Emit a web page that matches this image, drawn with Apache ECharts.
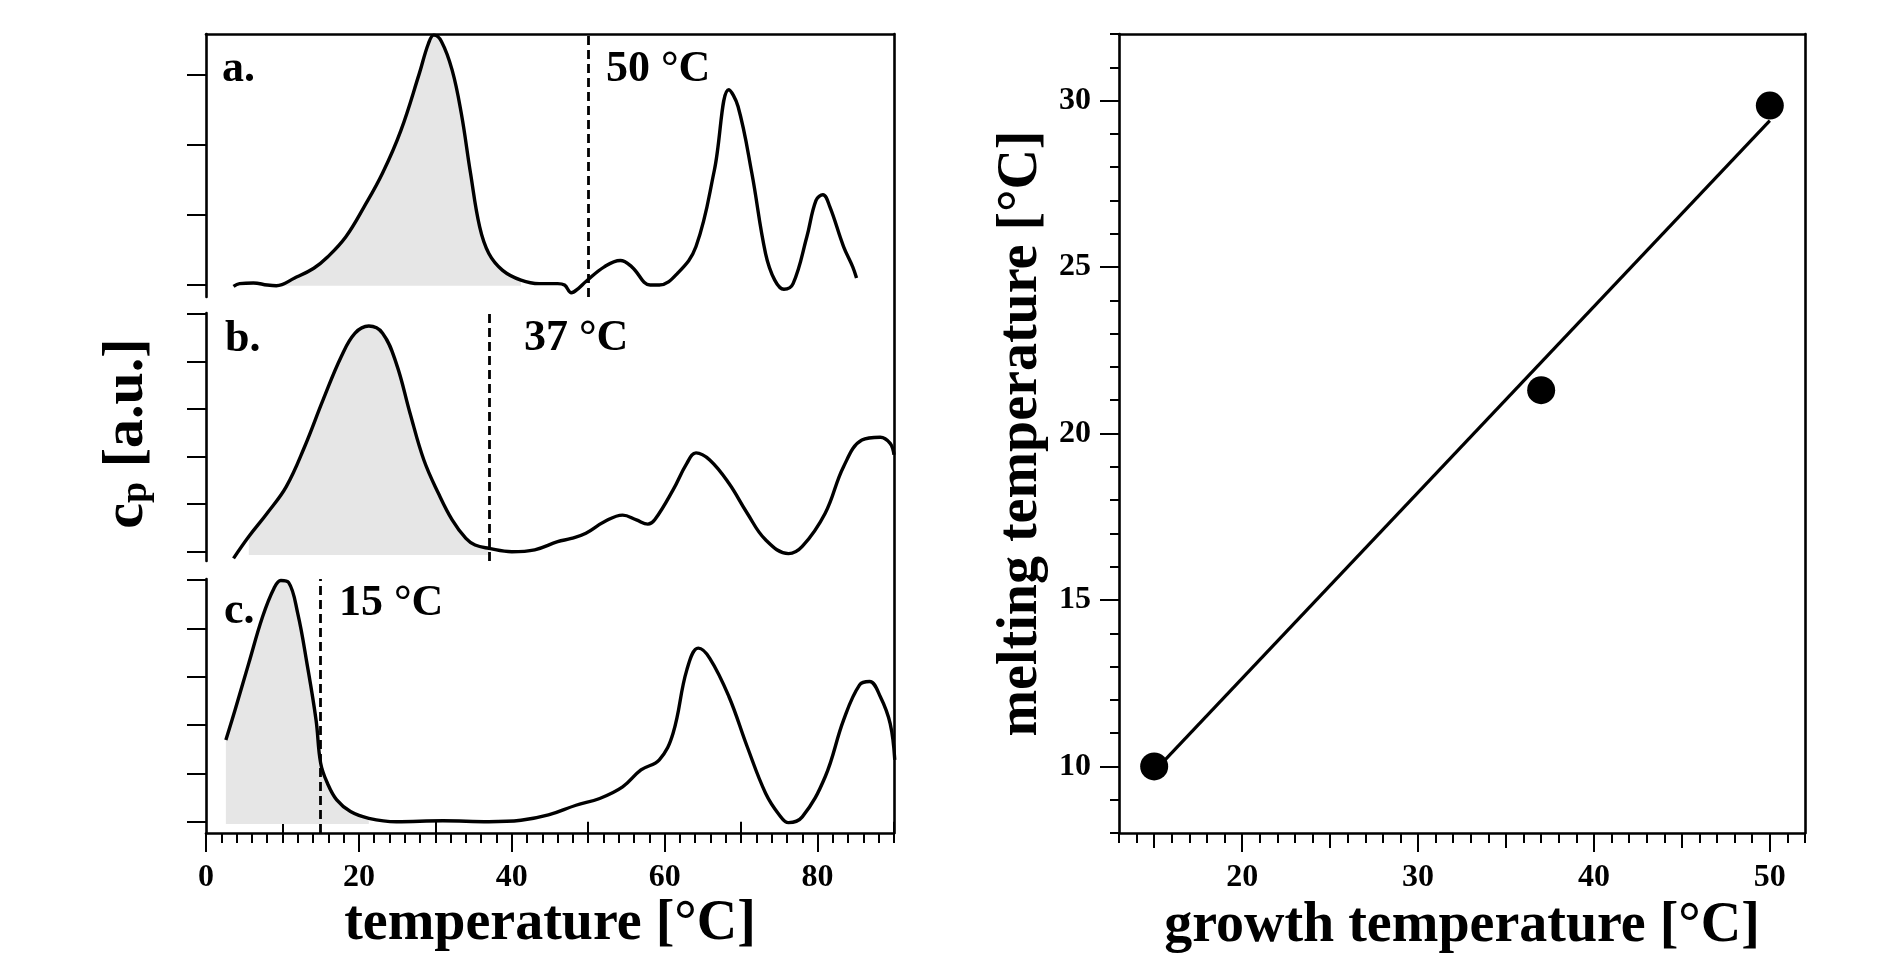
<!DOCTYPE html>
<html><head><meta charset="utf-8">
<script src="https://cdn.jsdelivr.net/npm/echarts@6/dist/echarts.min.js"></script>
<style>html,body{margin:0;padding:0;background:#fff}#c{width:1890px;height:978px}</style>
</head><body><div id="c"></div>
<script>
// ---------- data (temperature [°C], cp in tick units) ----------
const curveA = [[3.6,-0.02],[4.4,0.02],[6.2,0.03],[8,0.0],[9.2,-0.01],[11.6,0.10],[14.1,0.24],[15.9,0.40],[18.3,0.69],[20.7,1.12],[23.1,1.60],[25.5,2.21],[27.9,3.02],[29.1,3.45],[29.8,3.57],[30.8,3.48],[32.2,3.07],[33.4,2.45],[34.6,1.60],[35.8,0.83],[37.0,0.45],[38.8,0.21],[41.2,0.07],[43.6,0.02],[46.0,0.02],[46.9,0.0],[47.8,-0.11],[48.7,-0.05],[49.7,0.05],[52.1,0.26],[54.2,0.35],[55.7,0.26],[58.1,0.0],[59.3,0.0],[61.7,0.17],[64.1,0.55],[66.5,1.64],[68.4,2.79],[69.6,2.55],[71.4,1.60],[73.2,0.45],[74.4,0.07],[75.6,-0.06],[76.8,0.02],[78.6,0.69],[79.8,1.21],[80.7,1.29],[81.6,1.12],[83.4,0.55],[84.6,0.26],[85.1,0.10]];
const curveB = [[3.6,-0.14],[5.6,0.32],[8.0,0.81],[10.5,1.37],[12.9,2.21],[15.3,3.19],[17.7,4.11],[19.5,4.6],[21.3,4.75],[23.1,4.6],[24.9,3.96],[26.7,2.91],[28.5,1.93],[30.4,1.23],[32.2,0.67],[34.0,0.28],[35.2,0.14],[37.0,0.07],[40.0,0.0],[43.0,0.04],[46.0,0.21],[47.8,0.28],[49.7,0.39],[52.1,0.63],[54.5,0.77],[56.3,0.67],[57.8,0.58],[58.7,0.67],[61.1,1.30],[62.9,1.86],[64.1,2.08],[65.9,1.93],[68.4,1.44],[70.8,0.81],[73.2,0.25],[76.2,-0.04],[78.0,0.11],[81.0,0.81],[83.4,1.79],[85.8,2.35],[88.2,2.41],[89.5,2.28],[90.0,2.04]];
const curveC = [[2.6,1.69],[3.8,2.31],[5.6,3.28],[7.4,4.24],[8.9,4.83],[9.8,4.99],[10.8,4.95],[12.0,4.31],[13.2,3.28],[14.4,2.10],[15.0,1.21],[15.9,0.79],[17.1,0.45],[18.9,0.21],[21.3,0.07],[24.9,0.0],[31.0,0.02],[37.0,0.0],[41.2,0.03],[44.8,0.14],[48.4,0.34],[51.5,0.48],[54.5,0.72],[56.9,1.07],[59.3,1.28],[61.1,1.83],[62.9,3.14],[64.4,3.59],[65.9,3.38],[68.4,2.59],[70.8,1.55],[73.2,0.59],[75.0,0.14],[76.2,-0.02],[78.0,0.10],[81.0,0.93],[83.4,2.10],[85.5,2.83],[86.8,2.90],[88.2,2.59],[89.5,2.03],[90.1,1.28]];
// shaded (melting) range of each curve and its base level
const shadeA = [9, 42], shadeBaseA = -0.01;
const shadeB = [4.3, 37], shadeBaseB = -0.07;
const shadeC = [2.6, 21.5], shadeBaseC = -0.05;
const growthTemps = [50, 37, 15];          // dashed lines in panels a, b, c
const growthLabels = ['50 °C', '37 °C', '15 °C'];
const panelLetters = ['a.', 'b.', 'c.'];
// right panel
const growthT = [15, 37, 50];
const meltingT = [10.0, 21.3, 29.85];
const fitLine = [[15, 9.85], [50, 29.4]];
// tick values
const tempMajor = [0, 20, 40, 60, 80];
const tempMid = [10, 30, 50, 70, 90];
const tempMinor = []; for (let v = 0; v <= 90; v += 2) tempMinor.push(v);
const cpTicksA = [0, 1, 2, 3];
const cpTicksBC = [0, 1, 2, 3, 4, 5];
const growthMajor = [20, 30, 40, 50];
const growthMid = [15, 25, 35, 45];
const growthMinor = []; for (let v = 13; v <= 52; v++) growthMinor.push(v);
const meltMajor = [10, 15, 20, 25, 30];
const meltMinor = []; for (let v = 8; v <= 32; v++) meltMinor.push(v);

// ---------- chart ----------
const FONT = 'Liberation Serif';
const BLACK = '#000';
const chart = echarts.init(document.getElementById('c'));
const lineW = 2.6;

function tickAxis(extra) {
  return Object.assign({
    type: 'value', splitLine: {show: false},
    axisLine: {show: false}, axisLabel: {show: false},
    axisTick: {show: false}
  }, extra);
}
const tickStyle = {color: BLACK, width: 2};
const labelStyle = {color: BLACK, fontFamily: FONT, fontWeight: 'bold', fontSize: 32};
const nameStyle = {color: BLACK, fontFamily: FONT, fontWeight: 'bold', fontSize: 56};

const xAxes = [
  tickAxis({gridIndex: 0, min: 0, max: 90, show: false}),
  tickAxis({gridIndex: 1, min: 0, max: 90, show: false}),
  tickAxis({gridIndex: 2, min: 0, max: 90, position: 'bottom',
    axisLine: {show: true, onZero: false, lineStyle: {color: BLACK, width: lineW}},
    axisTick: {show: true, customValues: tempMajor, length: 19, lineStyle: tickStyle},
    axisLabel: {show: true, customValues: tempMajor, margin: 29, ...labelStyle},
    name: 'temperature [°C]', nameLocation: 'middle', nameGap: 64, nameTextStyle: nameStyle}),
  tickAxis({gridIndex: 2, min: 0, max: 90, position: 'bottom',
    axisTick: {show: true, customValues: tempMid, length: 15, lineStyle: tickStyle}}),
  tickAxis({gridIndex: 2, min: 0, max: 90, position: 'bottom',
    axisTick: {show: true, customValues: tempMinor, length: 10, lineStyle: tickStyle}}),
  tickAxis({gridIndex: 3, min: 0, max: 90, position: 'top',
    axisLine: {show: true, onZero: false, lineStyle: {color: BLACK, width: lineW}}}),
  tickAxis({gridIndex: 4, min: 13, max: 52, position: 'bottom',
    axisLine: {show: true, onZero: false, lineStyle: {color: BLACK, width: lineW}},
    axisTick: {show: true, customValues: growthMajor, length: 19, lineStyle: tickStyle},
    axisLabel: {show: true, customValues: growthMajor, margin: 29, ...labelStyle},
    name: 'growth temperature [°C]', nameLocation: 'middle', nameGap: 64, nameTextStyle: nameStyle}),
  tickAxis({gridIndex: 4, min: 13, max: 52, position: 'bottom',
    axisTick: {show: true, customValues: growthMid, length: 15, lineStyle: tickStyle}}),
  tickAxis({gridIndex: 4, min: 13, max: 52, position: 'bottom',
    axisTick: {show: true, customValues: growthMinor, length: 10, lineStyle: tickStyle}}),
  tickAxis({gridIndex: 4, min: 13, max: 52, position: 'top',
    axisLine: {show: true, onZero: false, lineStyle: {color: BLACK, width: lineW}}})
];
function panelY(grid, min, max, ticks) {
  return tickAxis({gridIndex: grid, min: min, max: max, position: 'left',
    axisLine: {show: true, onZero: false, lineStyle: {color: BLACK, width: lineW}},
    axisTick: {show: true, customValues: ticks, length: 19, lineStyle: tickStyle}});
}
const yAxes = [
  panelY(0, -0.171, 3.586, cpTicksA),
  panelY(1, -0.196, 5.025, cpTicksBC),
  panelY(2, -0.234, 5.02, cpTicksBC),
  tickAxis({gridIndex: 3, min: 0, max: 1, position: 'left',
    name: '{c|c}{p|p}{n| [a.u.]}', nameLocation: 'middle', nameGap: 50,
    nameTextStyle: Object.assign({}, nameStyle, {rich: {
      c: {fontFamily: FONT, fontWeight: 'bold', fontSize: 58, color: BLACK},
      p: {fontFamily: FONT, fontWeight: 'bold', fontSize: 38, color: BLACK, padding: [18, 0, 0, 0]},
      n: {fontFamily: FONT, fontWeight: 'bold', fontSize: 58, color: BLACK}
    }})}),
  tickAxis({gridIndex: 3, min: 0, max: 1, position: 'right',
    axisLine: {show: true, onZero: false, lineStyle: {color: BLACK, width: lineW}}}),
  tickAxis({gridIndex: 4, min: 8, max: 32, position: 'left',
    axisLine: {show: true, onZero: false, lineStyle: {color: BLACK, width: lineW}},
    axisTick: {show: true, customValues: meltMajor, length: 19, lineStyle: tickStyle},
    axisLabel: {show: true, customValues: meltMajor, margin: 28, ...labelStyle},
    name: 'melting temperature [°C]', nameLocation: 'middle', nameGap: 69, nameTextStyle: nameStyle}),
  tickAxis({gridIndex: 4, min: 8, max: 32, position: 'left',
    axisTick: {show: true, customValues: meltMinor, length: 9, lineStyle: tickStyle}}),
  tickAxis({gridIndex: 4, min: 8, max: 32, position: 'right',
    axisLine: {show: true, onZero: false, lineStyle: {color: BLACK, width: lineW}}})
];

const curves = [curveA, curveB, curveC];
const shades = [shadeA, shadeB, shadeC];
const shadeBases = [shadeBaseA, shadeBaseB, shadeBaseC];
const series = [];
curves.forEach((cv, i) => {
  series.push({
    type: 'line', xAxisIndex: i, yAxisIndex: i, z: 1,
    data: cv.filter(p => p[0] >= shades[i][0] && p[0] <= shades[i][1]),
    smooth: 0.4, showSymbol: false, silent: true,
    lineStyle: {width: 0, opacity: 0},
    areaStyle: {color: '#e6e6e6', opacity: 1, origin: shadeBases[i]}
  });
  series.push({
    type: 'line', xAxisIndex: i, yAxisIndex: i, z: 3,
    data: cv, smooth: 0.4, showSymbol: false, silent: true, clip: false,
    lineStyle: {color: BLACK, width: 3.4},
    markLine: {silent: true, symbol: 'none', label: {show: false},
      lineStyle: {color: BLACK, width: 2.8, type: [9, 5]},
      data: [{xAxis: growthTemps[i]}]}
  });
});
series.push({
  type: 'line', xAxisIndex: 6, yAxisIndex: 5, data: fitLine, showSymbol: false, silent: true,
  lineStyle: {color: BLACK, width: 3.2}
});
series.push({
  type: 'scatter', xAxisIndex: 6, yAxisIndex: 5, silent: true, z: 4,
  data: growthT.map((g, i) => [g, meltingT[i]]),
  symbol: 'circle', symbolSize: 28, itemStyle: {color: BLACK, opacity: 1}
});

const textStyle = (t) => ({text: t, fill: BLACK, font: 'bold 44px "Liberation Serif"', verticalAlign: 'middle'});
const graphic = [
  {type: 'text', x: 222, y: 70, style: textStyle(panelLetters[0])},
  {type: 'text', x: 606, y: 70, style: textStyle(growthLabels[0])},
  {type: 'text', x: 225, y: 340, style: textStyle(panelLetters[1])},
  {type: 'text', x: 524, y: 339, style: textStyle(growthLabels[1])},
  {type: 'text', x: 224, y: 612, style: textStyle(panelLetters[2])},
  {type: 'text', x: 339, y: 604, style: textStyle(growthLabels[2])}
];

chart.setOption({
  animation: false,
  backgroundColor: '#fff',
  grid: [
    {left: 206, width: 688, top: 34, height: 263},
    {left: 206, width: 688, top: 313, height: 248},
    {left: 206, width: 688, top: 579, height: 254},
    {left: 206, width: 688, top: 34, height: 799},
    {left: 1119, width: 686, top: 34, height: 799}
  ],
  xAxis: xAxes, yAxis: yAxes, series: series, graphic: graphic
});
</script></body></html>
